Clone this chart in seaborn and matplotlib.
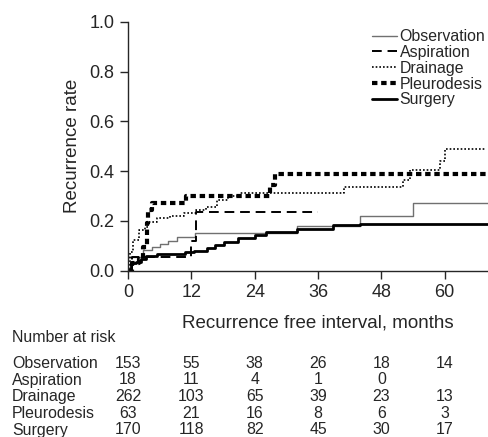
import pandas as pd, numpy as np
from matplotlib import pyplot as plt
import seaborn as sns

# step points (months, cumulative recurrence)
obs_t = [0, 2.9, 4.5, 6.1, 7.6, 9.2, 12.6, 32.0, 43.9, 54.0, 68.2]
obs_v = [0.055, 0.082, 0.096, 0.106, 0.12, 0.135, 0.152, 0.18, 0.22, 0.27, 0.27]

asp_t = [0, 0.8, 12.0, 12.9, 36.0]
asp_v = [0, 0.056, 0.118, 0.235, 0.235]

dra_t = [0, 0.4, 1.0, 2.0, 3.2, 3.8, 5.4, 8.0, 10.5, 12.9, 14.8, 16.8, 19.0, 21.2,
         41.0, 52.1, 53.4, 59.1, 60.0, 67.6]
dra_v = [0, 0.075, 0.122, 0.163, 0.176, 0.196, 0.21, 0.219, 0.23, 0.245, 0.256, 0.285,
         0.299, 0.312, 0.335, 0.363, 0.404, 0.44, 0.487, 0.487]

ple_t = [0, 0.8, 2.0, 2.9, 3.5, 3.8, 4.6, 11.0, 26.9, 27.8, 68.2]
ple_v = [0, 0.032, 0.048, 0.095, 0.19, 0.243, 0.27, 0.30, 0.343, 0.39, 0.39]

sur_t = [0, 0.5, 1.5, 2.5, 3.4, 5.5, 10.8, 12.4, 14.9, 16.5, 18.1, 20.9, 24.0, 26.1,
         32.0, 38.9, 43.9, 68.2]
sur_v = [0, 0.03, 0.035, 0.048, 0.058, 0.068, 0.075, 0.08, 0.089, 0.102, 0.116, 0.129,
         0.143, 0.156, 0.168, 0.181, 0.187, 0.187]

groups = ['Observation', 'Aspiration', 'Drainage', 'Pleurodesis', 'Surgery']
risk_times = [0, 12, 24, 36, 48, 60]
at_risk = {
    'Observation': ['153', '55', '38', '26', '18', '14'],
    'Aspiration': ['18', '11', '4', '1', '0', ''],
    'Drainage': ['262', '103', '65', '39', '23', '13'],
    'Pleurodesis': ['63', '21', '16', '8', '6', '3'],
    'Surgery': ['170', '118', '82', '45', '30', '17'],
}

curves = {'Observation': (obs_t, obs_v), 'Aspiration': (asp_t, asp_v),
          'Drainage': (dra_t, dra_v), 'Pleurodesis': (ple_t, ple_v),
          'Surgery': (sur_t, sur_v)}

styles = {
    'Observation': dict(color='#707070', lw=1.0, ls='-'),
    'Aspiration': dict(color='black', lw=1.4, ls=(0, (5, 3))),
    'Drainage': dict(color='black', lw=1.2, ls=(0, (1, 1.2))),
    'Pleurodesis': dict(color='black', lw=3.0, ls=(0, (1.3, 0.9))),
    'Surgery': dict(color='black', lw=2.0, ls='-'),
}

sns.set_style('ticks')
plt.rcParams['font.family'] = ['Liberation Sans', 'DejaVu Sans']

fig = plt.figure(figsize=(4.89, 4.37), dpi=100)
ax = fig.add_axes([0.262, 0.381, 0.736, 0.569])

for g in groups:
    t, v = curves[g]
    df = pd.DataFrame({'t': t, 'v': v})
    st = styles[g]
    sns.lineplot(data=df, x='t', y='v', ax=ax, estimator=None, sort=False,
                 drawstyle='steps-post', color=st['color'], lw=st['lw'],
                 linestyle=st['ls'], label=g)

ax.set_xlim(0, 68.2)
ax.set_ylim(0, 1.0)
ax.set_xticks(risk_times)
ax.set_yticks([0, 0.2, 0.4, 0.6, 0.8, 1.0])
ax.set_yticklabels(['0.0', '0.2', '0.4', '0.6', '0.8', '1.0'])
ax.tick_params(labelsize=13, length=6, width=1, direction='out', pad=4)
sns.despine(ax=ax)
for s in ['left', 'bottom']:
    ax.spines[s].set_linewidth(1.0)
ax.set_xlabel('Recurrence free interval, months', fontsize=13.5)
ax.set_ylabel('Recurrence rate', fontsize=13.5)
ax.xaxis.set_label_coords(0.528, -0.175)
ax.yaxis.set_label_coords(-0.13, 0.5)

leg = ax.legend(loc='upper right', bbox_to_anchor=(1.01, 0.996), frameon=False,
                fontsize=11.4, handlelength=1.6, handletextpad=0.15,
                labelspacing=0.05, borderaxespad=0)

# number at risk table
fig.text(12 / 489, 1 - 337 / 437, 'Number at risk', fontsize=11.4, va='center', ha='left')
row_y = [363, 380, 396.5, 413, 430]
for g, yy in zip(groups, row_y):
    fig.text(12 / 489, 1 - yy / 437, g, fontsize=11.4, va='center', ha='left')
    for t, n in zip(risk_times, at_risk[g]):
        xf = ax.transData.transform((t, 0))[0]
        fig.text(xf / fig.bbox.width, 1 - yy / 437, n, fontsize=11.4,
                 va='center', ha='center')

fig.savefig('out.png', dpi=100)
